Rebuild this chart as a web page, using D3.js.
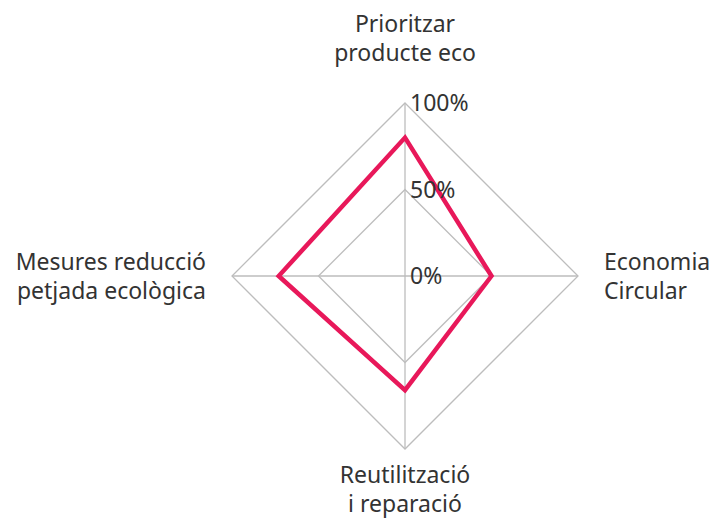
<!DOCTYPE html>
<html>
<head>
<meta charset="utf-8">
<script src="https://cdn.jsdelivr.net/npm/d3@7"></script>
<style>
  body { margin: 0; background: #fff; }
  text { font-family: "Noto Sans", sans-serif; fill: #333; }
</style>
</head>
<body>
<script>
const width = 718, height = 521;

// data
const axes = [
  ["Prioritzar", "producte eco"],
  ["Economia", "Circular"],
  ["Reutilització", "i reparació"],
  ["Mesures reducció", "petjada ecològica"]
];
const values = [0.80, 0.50, 0.66, 0.73];
const ticks = [0, 0.5, 1];
const tickLabels = ["0%", "50%", "100%"];

const cx = 405, cy = 276, radius = 173;

const svg = d3.select("body").append("svg")
    .attr("width", width)
    .attr("height", height);

const r = d3.scaleLinear().domain([0, 1]).range([0, radius]);
const angle = i => i * 2 * Math.PI / axes.length;  // 0 = up, clockwise

const g = svg.append("g").attr("transform", `translate(${cx},${cy})`);

const radial = d3.lineRadial()
    .angle((d, i) => angle(i))
    .radius(d => r(d))
    .curve(d3.curveLinearClosed);

// grid rings
g.selectAll(".ring")
    .data(ticks.filter(t => t > 0))
    .enter().append("path")
    .attr("d", t => radial(axes.map(() => t)))
    .attr("fill", "none")
    .attr("stroke", "#bdbdbd")
    .attr("stroke-width", 1.3);

// spokes
g.selectAll(".spoke")
    .data(axes)
    .enter().append("line")
    .attr("x1", 0).attr("y1", 0)
    .attr("x2", (d, i) => r(1) * Math.sin(angle(i)))
    .attr("y2", (d, i) => -r(1) * Math.cos(angle(i)))
    .attr("stroke", "#bdbdbd")
    .attr("stroke-width", 1.3);

// data shape
g.append("path")
    .attr("d", radial(values))
    .attr("fill", "none")
    .attr("stroke", "#e8185a")
    .attr("stroke-width", 4.5)
    .attr("stroke-linejoin", "miter");

// tick labels
g.selectAll(".tick")
    .data(ticks)
    .enter().append("text")
    .attr("x", 5)
    .attr("y", t => -r(t) + 8)
    .attr("font-size", 23)
    .text((t, i) => tickLabels[i]);

// axis labels
const labelPos = [
  { x: 0, y: -r(1) - 71, anchor: "middle" },
  { x: r(1) + 26, y: -6, anchor: "start" },
  { x: 0, y: r(1) + 34, anchor: "middle" },
  { x: -r(1) - 26, y: -6, anchor: "end" }
];

axes.forEach((lines, i) => {
  const p = labelPos[i];
  const t = g.append("text")
      .attr("text-anchor", p.anchor)
      .attr("font-size", 23);
  lines.forEach((line, j) => {
    t.append("tspan")
        .attr("x", p.x)
        .attr("y", p.y + j * 29)
        .text(line);
  });
});
</script>
</body>
</html>
